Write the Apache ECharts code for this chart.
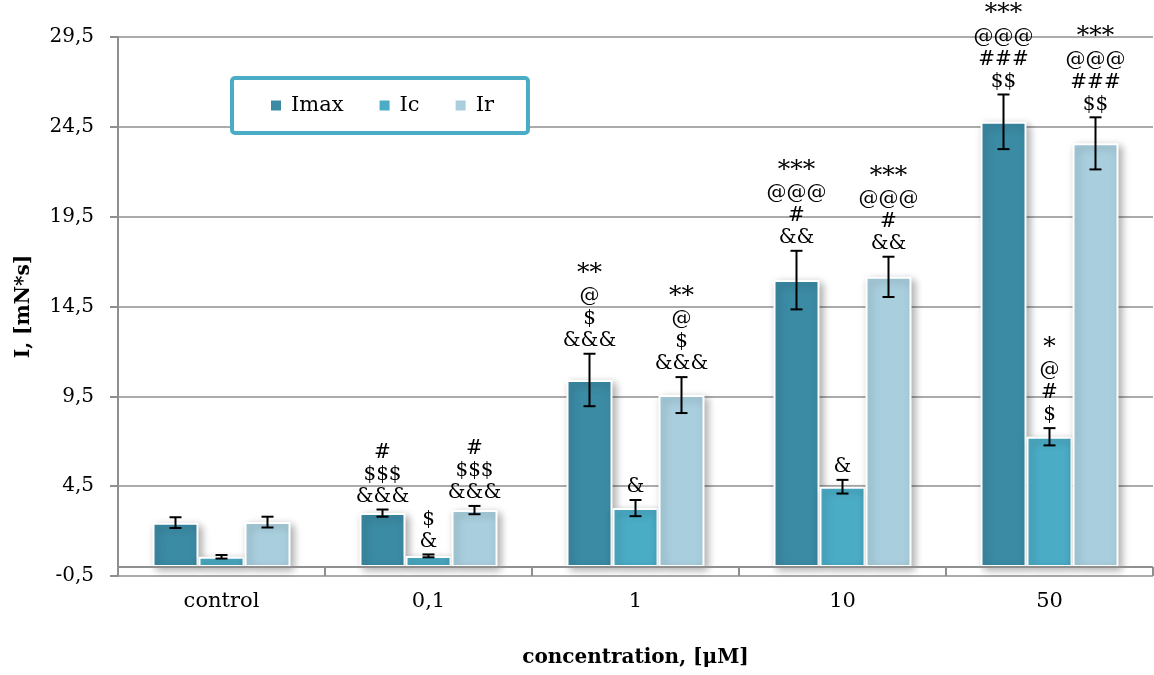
<!DOCTYPE html>
<html>
<head>
<meta charset="utf-8">
<title>I vs concentration</title>
<script src="https://cdn.jsdelivr.net/npm/echarts@6/dist/echarts.min.js"></script>
<style>
  html, body { margin: 0; padding: 0; background: #ffffff; }
  #chart { width: 1154px; height: 675px; }
</style>
</head>
<body>
<div id="chart"></div>
<script>
// Concentration groups along the horizontal axis
const categories = ['control', '0,1', '1', '10', '50'];

// Mean values and error (half-range) per group
const imaxValues = [2.47, 3.0, 10.41, 15.97, 24.78];
const imaxErrors = [0.3, 0.2, 1.46, 1.63, 1.52];
const icValues = [0.57, 0.62, 3.28, 4.47, 7.25];
const icErrors = [0.1, 0.08, 0.45, 0.38, 0.48];
const irValues = [2.5, 3.17, 9.57, 16.15, 23.58];
const irErrors = [0.3, 0.23, 1.0, 1.12, 1.45];

// Significance marks stacked above each bar (one line per test)
const imaxMarks = ['', '#\n$$$\n&&&', '**\n@\n$\n&&&', '***\n@@@\n#\n&&', '***\n@@@\n###\n$$'];
const icMarks = ['', '$\n&', '&', '&', '*\n@\n#\n$'];
const irMarks = ['', '#\n$$$\n&&&', '**\n@\n$\n&&&', '***\n@@@\n#\n&&', '***\n@@@\n###\n$$'];

const FONT = 'DejaVu Serif';
const BAR_W = 46;
const GRID_GRAY = '#8f8f8f';

const seriesDefs = [
  { name: 'Imax', color: '#3b8ba4', values: imaxValues, errors: imaxErrors, marks: imaxMarks },
  { name: 'Ic', color: '#4bacc6', values: icValues, errors: icErrors, marks: icMarks },
  { name: 'Ir', color: '#a9cfde', values: irValues, errors: irErrors, marks: irMarks }
];

// Asterisk lines get a slightly larger glyph so the stars read clearly
function toRich(mark) {
  return mark.split('\n').map(function (line) {
    return /^\*+$/.test(line) ? '{a|' + line + '}' : '{m|' + line + '}';
  }).join('\n');
}

const chart = echarts.init(document.getElementById('chart'), null, { renderer: 'canvas' });

const series = [];
seriesDefs.forEach(function (def) {
  series.push({
    name: def.name,
    type: 'bar',
    data: def.values,
    barWidth: BAR_W,
    barGap: '0%',
    itemStyle: {
      color: def.color,
      borderColor: '#ffffff',
      borderWidth: 2,
      shadowBlur: 8,
      shadowOffsetX: 3,
      shadowOffsetY: 3,
      shadowColor: 'rgba(0,0,0,0.32)'
    },
    emphasis: { disabled: true },
    z: 2
  });
});

// Category axis line crossing the value axis at 0, with boundary ticks hanging below it
series.push({
  name: 'baseline',
  type: 'custom',
  z: 4,
  silent: true,
  data: [[0]],
  renderItem: function (params, api) {
    const start = api.coord([0, 0]);
    const band = api.size([1, 0])[0];
    const left = start[0] - band / 2;
    const y = start[1];
    const style = { stroke: GRID_GRAY, lineWidth: 2 };
    const children = [
      { type: 'line', shape: { x1: left, y1: y, x2: left + band * categories.length, y2: y }, style: style }
    ];
    for (let k = 1; k <= categories.length; k++) {
      const tx = Math.round(left + band * k);
      children.push({ type: 'line', shape: { x1: tx, y1: y, x2: tx, y2: y + 9 }, style: style });
    }
    return { type: 'group', children: children };
  }
});

// Error bars with the significance marks drawn above them
seriesDefs.forEach(function (def, si) {
  const offset = (si - 1) * BAR_W;
  series.push({
    name: def.name + ' error',
    type: 'custom',
    z: 5,
    silent: true,
    data: def.values.map(function (v, i) { return [i, v + def.errors[i], v - def.errors[i]]; }),
    renderItem: function (params, api) {
      const i = api.value(0);
      const hi = api.coord([i, api.value(1)]);
      const lo = api.coord([i, api.value(2)]);
      const x = hi[0] + offset;
      const cap = 6;
      const lineStyle = { stroke: '#000', lineWidth: 2 };
      const children = [
        { type: 'line', shape: { x1: x, y1: hi[1], x2: x, y2: lo[1] }, style: lineStyle },
        { type: 'line', shape: { x1: x - cap, y1: hi[1], x2: x + cap, y2: hi[1] }, style: lineStyle },
        { type: 'line', shape: { x1: x - cap, y1: lo[1], x2: x + cap, y2: lo[1] }, style: lineStyle }
      ];
      const mark = def.marks[i];
      if (mark) {
        children.push({
          type: 'text',
          style: {
            text: toRich(mark),
            x: x,
            y: hi[1] - 2,
            align: 'center',
            verticalAlign: 'bottom',
            fill: '#000',
            rich: {
              m: { fontFamily: FONT, fontSize: 20, lineHeight: 22, fill: '#000' },
              a: { fontFamily: FONT, fontSize: 25, lineHeight: 25, fill: '#000' }
            }
          }
        });
      }
      return { type: 'group', children: children };
    }
  });
});

chart.setOption({
  animation: false,
  textStyle: { fontFamily: FONT, color: '#000' },
  grid: { left: 118, right: 1, top: 37, bottom: 99, containLabel: false, outerBoundsMode: 'none' },
  legend: {
    data: ['Imax', 'Ic', 'Ir'],
    left: 232,
    top: 78,
    orient: 'horizontal',
    icon: 'rect',
    itemWidth: 12,
    itemHeight: 12,
    itemGap: 34,
    padding: [17, 34, 17, 37],
    borderColor: '#4bacc6',
    borderWidth: 4,
    borderRadius: 3,
    backgroundColor: '#ffffff',
    textStyle: { fontFamily: FONT, fontSize: 21, color: '#000', padding: [0, 0, 0, 4] }
  },
  xAxis: {
    type: 'category',
    data: categories,
    axisLine: { show: false, onZero: false },
    axisTick: { show: false },
    axisLabel: { fontFamily: FONT, fontSize: 21, color: '#000', margin: 15 },
    name: 'concentration, [μM]',
    nameLocation: 'middle',
    nameGap: 72,
    nameTextStyle: { fontFamily: FONT, fontSize: 20, fontWeight: 'bold', color: '#000' }
  },
  yAxis: {
    type: 'value',
    min: -0.5,
    max: 29.5,
    interval: 5,
    axisLine: { show: true, lineStyle: { color: GRID_GRAY, width: 2 } },
    axisTick: { show: true, length: 8, lineStyle: { color: GRID_GRAY, width: 2 } },
    splitLine: { show: true, lineStyle: { color: GRID_GRAY, width: 1.5 } },
    axisLabel: {
      fontFamily: FONT, fontSize: 20, color: '#000', margin: 24,
      formatter: function (v) { return v.toFixed(1).replace('.', ','); }
    },
    name: 'I, [mN*s]',
    nameLocation: 'middle',
    nameRotate: 90,
    nameGap: 84,
    nameTextStyle: { fontFamily: FONT, fontSize: 20, fontWeight: 'bold', color: '#000' }
  },
  series: series
});
</script>
</body>
</html>
